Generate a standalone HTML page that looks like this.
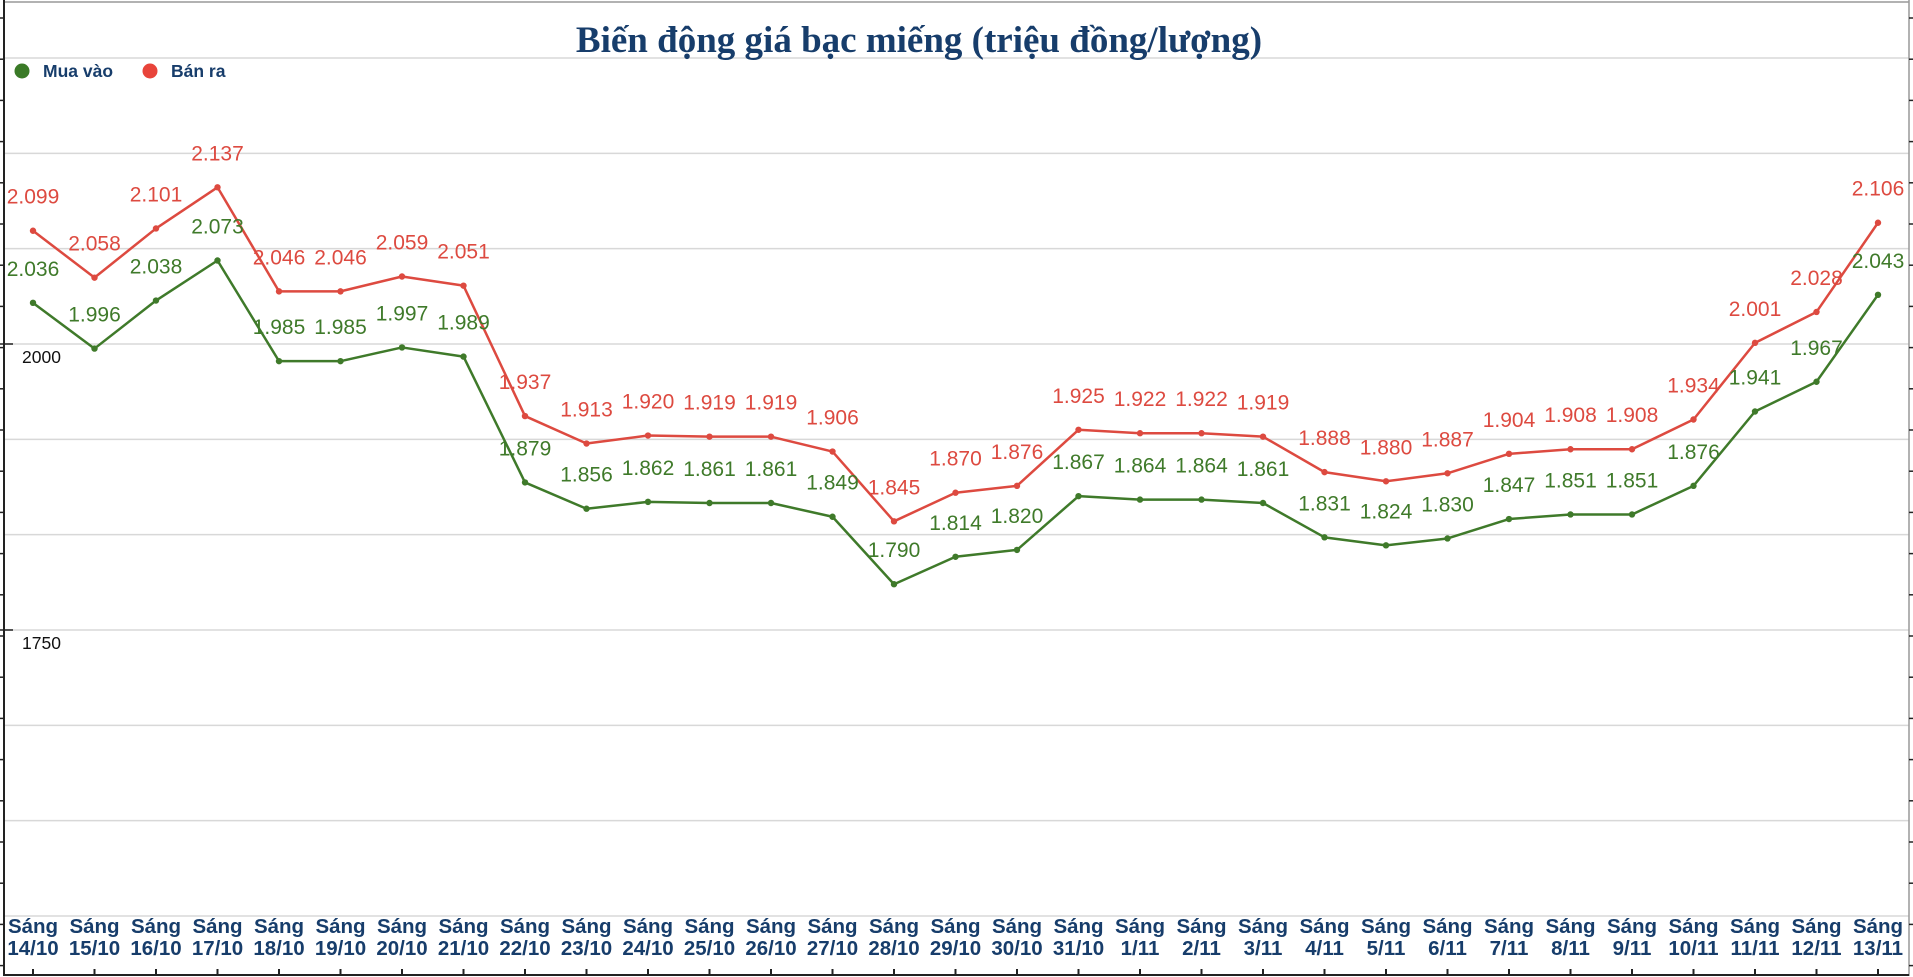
<!DOCTYPE html>
<html><head><meta charset="utf-8">
<style>
html,body{margin:0;padding:0;background:#fff;}
svg{display:block;}
</style></head>
<body>
<svg id="chart" width="1913" height="977" viewBox="0 0 1913 977" xmlns="http://www.w3.org/2000/svg">
<rect x="0" y="0" width="1913" height="977" fill="#fff"/>
<g id="grid"></g>
<line x1="4" y1="2" x2="1909" y2="2" stroke="#999" stroke-width="1.5"/>
<line x1="4" y1="0" x2="4" y2="976" stroke="#222" stroke-width="2"/>
<line x1="1909" y1="0" x2="1909" y2="976" stroke="#999" stroke-width="1.5"/>
<line x1="4" y1="975" x2="1909" y2="975" stroke="#222" stroke-width="2"/>
<g id="ticks"></g>
<text x="919" y="52" text-anchor="middle" font-family="Liberation Serif, serif" font-weight="bold" font-size="37" fill="#173d6b">Biến động giá bạc miếng (triệu đồng/lượng)</text>
<g>
<g><circle cx="22" cy="71" r="7.5" fill="#3a7a27"/><text x="43" y="77" font-family="Liberation Sans, sans-serif" font-weight="bold" font-size="17.5" fill="#173d6b">Mua vào</text></g>
<g><circle cx="150" cy="71" r="7.5" fill="#e8443a"/><text x="171" y="77" font-family="Liberation Sans, sans-serif" font-weight="bold" font-size="17.5" fill="#173d6b">Bán ra</text></g>
</g>
<g id="ylabels"></g>
<g id="xlabels"></g>
<g id="series"></g>
</svg>
<script>
const categories = ["14/10","15/10","16/10","17/10","18/10","19/10","20/10","21/10","22/10","23/10","24/10","25/10","26/10","27/10","28/10","29/10","30/10","31/10","1/11","2/11","3/11","4/11","5/11","6/11","7/11","8/11","9/11","10/11","11/11","12/11","13/11"];
const buyValues = [2036,1996,2038,2073,1985,1985,1997,1989,1879,1856,1862,1861,1861,1849,1790,1814,1820,1867,1864,1864,1861,1831,1824,1830,1847,1851,1851,1876,1941,1967,2043];
const sellValues = [2099,2058,2101,2137,2046,2046,2059,2051,1937,1913,1920,1919,1919,1906,1845,1870,1876,1925,1922,1922,1919,1888,1880,1887,1904,1908,1908,1934,2001,2028,2106];
const yTickLabels = [2000,1750];

const NS="http://www.w3.org/2000/svg";
function el(tag, attrs, parent){const e=document.createElementNS(NS,tag);for(const k in attrs)e.setAttribute(k,attrs[k]);parent.appendChild(e);return e;}
const gridStep=95.33, y2000=344;
function yScale(v){return y2000-(v-2000)*gridStep/83.333;}
function xScale(i){return 33+i*(1878-33)/(categories.length-1);}

const grid=document.getElementById('grid');
for(let k=-3;k<=6;k++){const y=y2000+k*gridStep;
 const l=el('line',{x1:4,x2:1909,y1:y,y2:y,stroke:'#d8d8d8','stroke-width':1.5},grid);
 
 
}
const ticks=document.getElementById('ticks');
for(let y=18;y<975;y+=41.2){
 const t=el('line',{x1:0,x2:4,y1:y,y2:y,stroke:'#222','stroke-width':1.5},ticks);
 
 
 const r=el('line',{x1:1909,x2:1913,y1:y,y2:y,stroke:'#222','stroke-width':1.5},ticks);
 
 
}
[y2000,yScale(1750)].forEach(y=>{const t=el('line',{x1:0,x2:13,y1:y,y2:y,stroke:'#222','stroke-width':1.5},ticks);
 
 });
const yl=document.getElementById('ylabels');
yTickLabels.forEach(v=>{const t=el('text',{x:22,y:yScale(v)+19,'font-family':'Liberation Sans, sans-serif','font-size':17.5,fill:'#111'},yl);
 t.textContent=v;
 
 });
const xl=document.getElementById('xlabels');
categories.forEach((c,i)=>{const x=xScale(i);
 const t=el('text',{x:x,y:933,'text-anchor':'middle','font-family':'Liberation Sans, sans-serif','font-weight':'bold','font-size':20.5,fill:'#173d6b'},xl);
 
 
 const a=el('tspan',{x:x},t);a.textContent='Sáng';
 const b=el('tspan',{x:x,dy:22},t);b.textContent=c;
 const tk=el('line',{x1:x,x2:x,y1:969,y2:975,stroke:'#222','stroke-width':2},xl);
 
 
});
const series=document.getElementById('series');
function draw(vals,color,name){
 const g=el('g',{},series);
 
 
 const pts=vals.map((v,i)=>xScale(i)+','+yScale(v)).join(' ');
 const pl=el('polyline',{points:pts,fill:'none',stroke:color,'stroke-width':2.5,'stroke-linejoin':'round'},g);
 
 
 vals.forEach((v,i)=>{
  const c=el('circle',{cx:xScale(i),cy:yScale(v),r:3.2,fill:color},g);
  
  
  const t=el('text',{x:xScale(i),y:yScale(v)-27,'text-anchor':'middle','font-family':'Liberation Sans, sans-serif','font-size':21,fill:color},g);
  t.textContent=(v/1000).toFixed(3);
  
  
 });
}
draw(sellValues,'#dd4a40','sell');
draw(buyValues,'#3f7a2a','buy');
</script>
</body></html>
